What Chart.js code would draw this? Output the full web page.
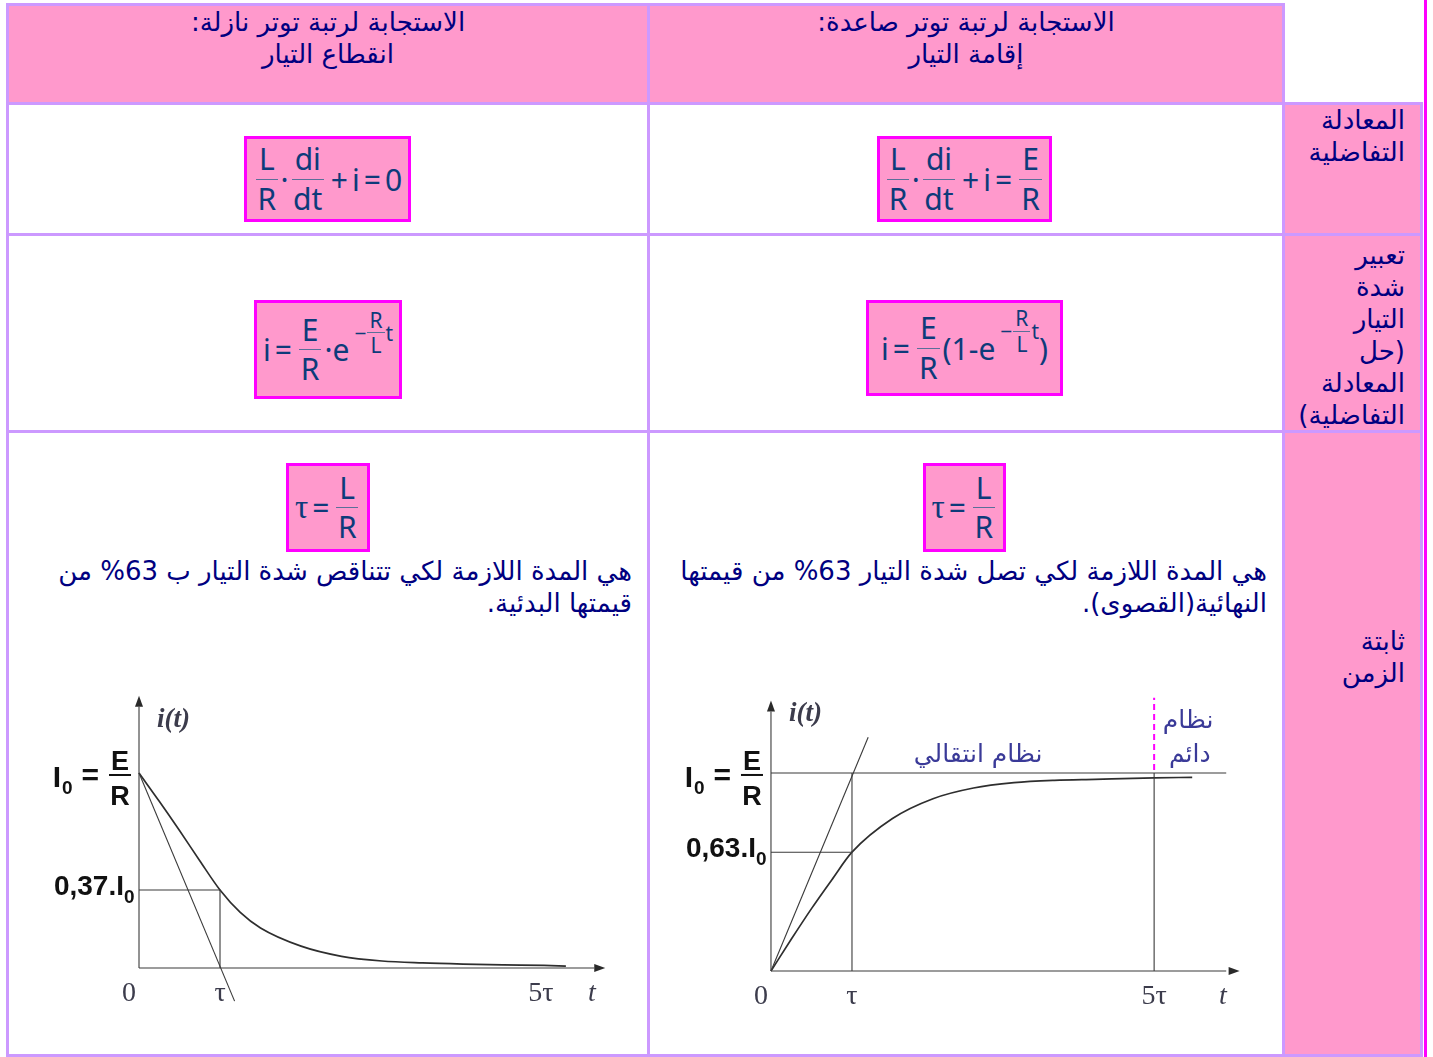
<!DOCTYPE html>
<html lang="ar">
<head>
<meta charset="utf-8">
<script src="https://cdn.jsdelivr.net/npm/chart.js@4.4.1/dist/chart.umd.min.js"></script>
<style>
body{margin:0;background:#fff;width:1433px;height:1057px;overflow:hidden;position:relative;font-family:"DejaVu Sans",sans-serif;}
.cell{position:absolute;box-sizing:border-box;border:3px solid #cc99ff;}
.pink{background:#ff99cc;}
.ar{position:absolute;direction:rtl;color:#000080;font-size:26px;line-height:32px;white-space:nowrap;}
.c{text-align:center;}
.box{position:absolute;box-sizing:border-box;border:3px solid #ff00ff;background:#ff99cc;color:#0d3b7a;font-family:"Noto Sans",sans-serif;font-size:30px;display:flex;align-items:center;justify-content:center;white-space:nowrap;direction:ltr;}
.fr{display:inline-flex;flex-direction:column;align-items:center;vertical-align:middle;line-height:1.08;margin:0 3px;}
.fr>span:first-child{border-bottom:1.5px solid #5a6f99;padding:0 3px 3px;}
.fr>span:last-child{padding-top:3px;}
.sup{font-size:0.7em;display:inline-flex;align-items:center;position:relative;top:-0.8em;margin-left:5px;}
.sup .fr{margin:0 1px;}
.sup .fr>span:first-child{padding:0 2px 1px;}
.sup .fr>span:last-child{padding-top:1px;}
.tau{font-family:"Liberation Serif",serif;font-size:33px;}
.op{margin:0 4px;}
canvas{position:absolute;}
</style>
</head>
<body>
<!-- grille du tableau -->
<div class="cell pink" style="left:6px;top:3px;width:644px;height:102px"></div>
<div class="cell pink" style="left:647px;top:3px;width:638px;height:102px"></div>
<div class="cell" style="left:6px;top:102px;width:644px;height:134px"></div>
<div class="cell" style="left:647px;top:102px;width:638px;height:134px"></div>
<div class="cell pink" style="left:1282px;top:102px;width:141px;height:134px"></div>
<div class="cell" style="left:6px;top:233px;width:644px;height:200px"></div>
<div class="cell" style="left:647px;top:233px;width:638px;height:200px"></div>
<div class="cell pink" style="left:1282px;top:233px;width:141px;height:200px"></div>
<div class="cell" style="left:6px;top:430px;width:644px;height:627px"></div>
<div class="cell" style="left:647px;top:430px;width:638px;height:627px"></div>
<div class="cell pink" style="left:1282px;top:430px;width:141px;height:627px"></div>
<div style="position:absolute;left:1424px;top:0;width:3px;height:1057px;background:#ff00ff"></div>

<!-- en-têtes -->
<div class="ar c" style="left:9px;top:6px;width:638px">الاستجابة لرتبة توتر نازلة:<br>انقطاع التيار</div>
<div class="ar c" style="left:650px;top:6px;width:632px">الاستجابة لرتبة توتر صاعدة:<br>إقامة التيار</div>

<div class="ar" style="left:1288px;top:104px;width:117px">المعادلة<br>التفاضلية</div>
<div class="ar" style="left:1288px;top:239px;width:117px">تعبير<br>شدة<br>التيار<br>(حل<br>المعادلة<br>التفاضلية)</div>
<div class="ar" style="left:1288px;top:625px;width:117px">ثابتة<br>الزمن</div>

<!-- équations -->
<div class="box" style="left:244px;top:136px;width:167px;height:86px">
  <span class="fr"><span>L</span><span>R</span></span>·<span class="fr"><span>di</span><span>dt</span></span><span class="op">+</span>i<span class="op">=</span>0
</div>
<div class="box" style="left:877px;top:136px;width:175px;height:86px">
  <span class="fr"><span>L</span><span>R</span></span>·<span class="fr"><span>di</span><span>dt</span></span><span class="op">+</span>i<span class="op">=</span><span class="fr"><span>E</span><span>R</span></span>
</div>
<div class="box" style="left:254px;top:300px;width:148px;height:99px">
  i<span class="op">=</span><span class="fr"><span>E</span><span>R</span></span>·e<span class="sup">−<span class="fr"><span>R</span><span>L</span></span>t</span>
</div>
<div class="box" style="left:866px;top:300px;width:197px;height:96px">
  i<span class="op">=</span><span class="fr"><span>E</span><span>R</span></span>(1-e<span class="sup">−<span class="fr"><span>R</span><span>L</span></span>t</span>)
</div>
<div class="box" style="left:286px;top:463px;width:84px;height:89px">
  <span class="tau">τ</span><span class="op">=</span><span class="fr"><span>L</span><span>R</span></span>
</div>
<div class="box" style="left:923px;top:463px;width:83px;height:89px">
  <span class="tau">τ</span><span class="op">=</span><span class="fr"><span>L</span><span>R</span></span>
</div>

<div class="ar" style="left:14px;top:555px;width:618px">هي المدة اللازمة لكي تتناقص شدة التيار ب 63% من<br>قيمتها البدئية.</div>
<div class="ar" style="left:651px;top:555px;width:616px">هي المدة اللازمة لكي تصل شدة التيار 63% من قيمتها<br>النهائية(القصوى).</div>

<canvas id="chartDecay" width="590" height="330" style="left:30px;top:690px"></canvas>
<canvas id="chartRise" width="600" height="330" style="left:660px;top:690px"></canvas>

<script>
// valeurs (t en multiples de tau, i en multiples de I0)
const tickNames = ['0', 'τ', '5τ'];

// rupture du courant
const decayT = [0, 0.25, 0.5, 0.75, 1, 1.25, 1.5, 2, 2.5, 3, 3.5, 4, 4.5, 5, 5.27];
const decayI = [1, 0.855, 0.705, 0.55, 0.40, 0.285, 0.205, 0.112, 0.06, 0.036, 0.026, 0.02, 0.016, 0.013, 0.01];
const decayTangentT = [0, 1.18];
const decayTangentI = [1, -0.17];
const decayTicks = [0, 1, 4.96];
const decayLevel = 0.40;
const decayLevelName = '0,37.I';

// établissement du courant
const riseT = [0, 0.25, 0.5, 0.75, 1, 1.5, 2, 2.5, 3, 3.5, 4, 4.73, 5.2];
const riseI = [0, 0.16, 0.315, 0.46, 0.60, 0.77, 0.87, 0.924, 0.951, 0.963, 0.968, 0.975, 0.978];
const riseTangentT = [0, 1.2];
const riseTangentI = [0, 1.18];
const riseTicks = [0, 1, 4.73];
const riseLevel = 0.60;
const riseLevelName = '0,63.I';
const riseSteady = 4.73;

const pts = (xs, ys) => xs.map((v, i) => ({x: v, y: ys[i]}));
const ink = '#3a3a3a';

function line(data, extra) {
  return Object.assign({data: data, showLine: true, borderColor: ink, borderWidth: 1.1, pointRadius: 0, tension: 0}, extra || {});
}

function arrowHead(ctx, x, y, dir) {
  ctx.beginPath();
  if (dir === 'right') { ctx.moveTo(x + 11, y); ctx.lineTo(x, y - 4); ctx.lineTo(x, y + 4); }
  else { ctx.moveTo(x, y - 11); ctx.lineTo(x - 4, y); ctx.lineTo(x + 4, y); }
  ctx.closePath();
  ctx.fill();
}

function overlay(o) {
  return {
    id: 'overlay',
    afterDatasetsDraw(chart) {
      const ctx = chart.ctx;
      const X = v => chart.scales.x.getPixelForValue(v);
      const Y = v => chart.scales.y.getPixelForValue(v);
      const ax = X(0), ay = Y(0);
      ctx.save();
      ctx.fillStyle = '#2a2a2a';
      arrowHead(ctx, X(o.xEnd), ay, 'right');
      arrowHead(ctx, ax, Y(o.yEnd), 'up');

      // graduations
      ctx.fillStyle = '#3c3c4c';
      ctx.font = '28px "Liberation Serif"';
      ctx.textAlign = 'center';
      ctx.textBaseline = 'middle';
      o.ticks.forEach((v, i) => ctx.fillText(tickNames[i], X(v) + (i === 0 ? -10 : 0), ay + 26));
      ctx.font = 'italic 28px "Liberation Serif"';
      ctx.fillText('t', X(o.tPos), ay + 26);
      ctx.font = 'italic bold 27px "Liberation Serif"';
      ctx.textAlign = 'left';
      ctx.fillText('i(t)', ax + 18, Y(o.itPos));

      // I0 = E/R
      ctx.fillStyle = '#111';
      const yc = Y(1) + 2, xr = ax - 9;
      ctx.font = 'bold 27px "Liberation Sans"';
      ctx.textBaseline = 'alphabetic';
      ctx.textAlign = 'center';
      ctx.fillText('E', xr - 10, yc - 5);
      ctx.fillText('R', xr - 10, yc + 30);
      ctx.fillRect(xr - 21, yc - 1, 22, 2);
      ctx.font = 'bold 30px "Liberation Sans"';
      ctx.textAlign = 'right';
      ctx.fillText('=', xr - 31, yc + 10);
      ctx.fillText('I', xr - 69, yc + 12);
      ctx.font = 'bold 19px "Liberation Sans"';
      ctx.textAlign = 'left';
      ctx.fillText('0', xr - 68, yc + 19);

      // niveau 0,37 / 0,63
      const yl = Y(o.level);
      ctx.font = 'bold 28px "Liberation Sans"';
      ctx.textAlign = 'right';
      ctx.fillText(o.levelName, ax - 15, yl + 5);
      ctx.font = 'bold 19px "Liberation Sans"';
      ctx.textAlign = 'left';
      ctx.fillText('0', ax - 15, yl + 13);

      if (o.arabic) {
        ctx.fillStyle = '#3a3a98';
        ctx.font = '25px "DejaVu Sans"';
        ctx.textAlign = 'center';
        ctx.textBaseline = 'middle';
        ctx.direction = 'rtl';
        o.arabic.forEach(a => ctx.fillText(a.text, X(a.t), Y(a.i)));
      }
      ctx.restore();
    }
  };
}

function makeChart(id, datasets, range, o) {
  return new Chart(document.getElementById(id), {
    type: 'scatter',
    data: {datasets: datasets},
    options: {
      responsive: false,
      animation: false,
      layout: {padding: 0},
      plugins: {legend: {display: false}, tooltip: {enabled: false}},
      scales: {
        x: {type: 'linear', display: false, min: range[0], max: range[1]},
        y: {type: 'linear', display: false, min: range[2], max: range[3]}
      }
    },
    plugins: [overlay(o)]
  });
}

makeChart('chartDecay', [
  line(pts([0, 5.62], [0, 0])),
  line(pts([0, 0], [0, 1.34])),
  line(pts([0, 1, 1], [decayLevel, decayLevel, 0])),
  line(pts(decayTangentT, decayTangentI)),
  line(pts(decayT, decayI), {borderColor: '#2e2e2e', borderWidth: 1.7, cubicInterpolationMode: 'monotone'})
], [-1.3457, 5.938, -0.2667, 1.4256], {
  xEnd: 5.62, yEnd: 1.34, ticks: decayTicks, tPos: 5.59, itPos: 1.27,
  level: decayLevel, levelName: decayLevelName
});

makeChart('chartRise', [
  line(pts([0, 5.62], [0, 0])),
  line(pts([0, 0], [0, 1.31])),
  line(pts([0, 5.62], [1, 1])),
  line(pts([0, 1], [riseLevel, riseLevel])),
  line(pts([1, 1], [0, 1])),
  line(pts([riseSteady, riseSteady], [0, 1])),
  line(pts([riseSteady, riseSteady], [1.015, 1.38]), {borderColor: '#ff00ff', borderWidth: 2, borderDash: [6, 4]}),
  line(pts(riseTangentT, riseTangentI)),
  line(pts(riseT, riseI), {borderColor: '#2e2e2e', borderWidth: 1.7, cubicInterpolationMode: 'monotone'})
], [-1.370, 6.037, -0.2475, 1.419], {
  xEnd: 5.65, yEnd: 1.31, ticks: riseTicks, tPos: 5.58, itPos: 1.30,
  level: riseLevel, levelName: riseLevelName,
  arabic: [
    {text: 'نظام انتقالي', t: 2.556, i: 1.09},
    {text: 'نظام', t: 5.15, i: 1.258},
    {text: 'دائم', t: 5.17, i: 1.09}
  ]
});
</script>
</body>
</html>
